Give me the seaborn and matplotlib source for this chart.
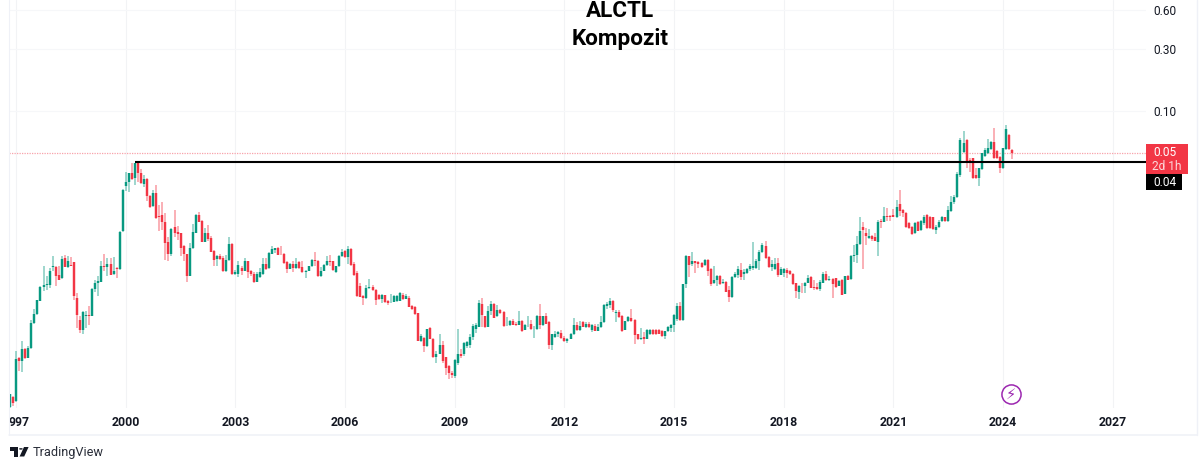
"""
ALCTL monthly candles on a log price axis, TradingView look
"""
import numpy as np
import pandas as pd
import matplotlib.pyplot as plt
from matplotlib.lines import Line2D
from matplotlib.patches import Circle, Polygon, Rectangle
from matplotlib.transforms import ScaledTranslation
import seaborn as sns

# monthly OHLC, Nov 1996 to Apr 2024, in thousandths of a unit
opens = [
    .52, .62, .58, 1.24, 1.17, 1.46, 1.24, 1.48, 2.29, 2.70,
    3.43, 4.39, 4.55, 4.55, 6.23, 6.23, 5.43, 5.12, 7.31, 6.23,
    6.49, 6.76, 3.59, 2.45, 2.05, 2.62, 2.67, 2.60, 4.21, 4.68,
    4.82, 6.33, 6.19, 6.60, 5.53, 6.11, 6.01, 11.9, 26.3, 28.1,
    33.3, 30.2, 39.4, 33.3, 27.1, 29.8, 22.1, 18.3, 23.4, 15.5,
    15.8, 14.0, 9.70, 7.89, 12.6, 11.6, 11.4, 9.09, 7.89, 5.34,
    8.72, 11.5, 15.6, 14.2, 9.8, 11.5, 10.4, 8.32, 7.18, 7.65,
    7.31, 5.76, 7.09, 9.42, 5.5, 5.53, 6.11, 5.83, 6.93, 5.76,
    5.53, 4.82, 5.21, 5.53, 6.57, 6.11, 7.89, 8.47, 8.72, 7.89,
    7.83, 6.8, 6.04, 6.6, 6.11, 6.76, 6.19, 5.66, 5.86, 6.3,
    7.09, 6.88, 5.3, 5.86, 6.49, 7.0, 6.88, 5.7, 6.3, 7.52,
    8.27, 7.4, 8.62, 6.6, 5.6, 4.42, 3.74, 3.59, 4.28, 4.39,
    4.11, 3.81, 3.53, 3.76, 3.38, 3.35, 3.37, 3.38, 3.43, 3.81,
    3.55, 3.57, 3.13, 3.06, 2.75, 1.66, 1.76, 1.53, 2.12, 1.74,
    1.26, 1.34, 1.57, 1.26, 1.08, .94, .90, 1.14, 1.33, 1.32,
    1.54, 1.57, 1.79, 2.09, 2.16, 3.25, 2.6, 2.16, 2.83, 3.23,
    2.6, 2.88, 2.79, 2.21, 2.23, 2.4, 2.27, 2.23, 2.41, 2.05,
    2.23, 2.27, 2.07, 2.07, 2.6, 2.21, 2.6, 2.33, 1.57, 1.79,
    1.88, 1.94, 1.77, 1.66, 1.73, 1.88, 2.21, 2.04, 2.35, 2.16,
    2.26, 2.05, 2.19, 2.01, 2.13, 2.35, 3.13, 3.19, 3.41, 2.76,
    2.79, 2.6, 2.05, 2.37, 2.54, 2.45, 1.89, 1.73, 1.79, 1.73,
    1.88, 2.05, 2.05, 2.05, 2.0, 1.83, 2.0, 2.12, 2.23, 2.47,
    3.13, 2.45, 4.58, 7.52, 6.6, 6.93, 6.76, 6.68, 6.49, 7.09,
    6.01, 4.68, 4.97, 5.34, 4.68, 4.80, 4.11, 3.66, 5.18, 5.43,
    5.94, 5.53, 5.6, 6.07, 6.11, 6.15, 7.0, 8.13, 9.09, 7.44,
    6.19, 6.07, 6.68, 5.43, 5.6, 5.94, 5.86, 5.53, 4.68, 3.97,
    4.47, 4.42, 4.73, 5.21, 4.37, 4.37, 4.21, 4.73, 5.53, 4.97,
    5.03, 5.09, 4.47, 4.97, 3.88, 5.34, 5.03, 7.52, 7.75, 9.42,
    12.7, 11.5, 10.4, 10.9, 10.7, 9.8, 14.2, 14.0, 15.5, 15.5,
    15.6, 15.2, 19.2, 17.2, 16.3, 13.7, 12.7, 11.4, 13.9, 12.1,
    13.7, 15.8, 15.2, 15.2, 12.1, 12.7, 14.2, 15.2, 14.2, 16.9,
    19.9, 21.7, 32.0, 48.2, 59.6, 41.8, 43.3, 32.0, 30.4, 35.6,
    44.9, 47.3, 50.8, 57.5, 49.0, 44.1, 36.3, 50.8, 65.1, 50.3,
]
highs = [
    .65, .63, 1.39, 1.26, 1.67, 1.48, 1.53, 2.45, 2.96, 3.49,
    4.47, 6.37, 5.34, 6.11, 7.52, 6.30, 6.30, 7.52, 7.71, 7.61,
    7.44, 6.84, 3.93, 2.60, 2.87, 2.87, 3.13, 4.28, 4.91, 5.27,
    6.97, 7.89, 7.31, 7.31, 7.44, 6.23, 11.9, 24.8, 33.8, 33.3,
    39.9, 39.9, 40.4, 35.4, 32.0, 30.2, 22.5, 24.5, 26.8, 18.8,
    19.8, 16.4, 10.6, 12.4, 17.2, 13.0, 11.4, 9.25, 7.89, 9.54,
    13.3, 16.0, 16.6, 14.4, 12.4, 13.2, 10.9, 8.47, 7.75, 7.83,
    7.52, 7.75, 10.7, 9.54, 5.94, 6.88, 6.3, 7.26, 7.0, 5.94,
    5.66, 5.66, 6.11, 7.31, 7.31, 8.17, 9.09, 8.8, 8.88, 8.98,
    7.93, 6.88, 6.68, 7.0, 7.31, 6.88, 6.88, 5.94, 6.37, 7.18,
    8.2, 7.09, 6.23, 6.6, 7.52, 7.71, 6.97, 6.37, 7.75, 8.57,
    8.47, 9.09, 8.67, 6.76, 5.76, 4.68, 3.79, 4.5, 5.03, 4.55,
    4.21, 3.88, 3.83, 3.81, 3.49, 3.88, 3.79, 3.79, 4.02, 3.95,
    3.88, 3.74, 3.19, 3.1, 2.76, 1.90, 1.79, 2.08, 2.16, 1.76,
    1.39, 1.90, 1.66, 1.27, 1.10, .98, 1.21, 2.08, 1.46, 1.65,
    1.67, 1.90, 2.26, 2.3, 3.49, 3.59, 2.62, 3.1, 3.38, 3.29,
    3.19, 2.96, 2.83, 2.57, 2.45, 2.47, 2.35, 2.85, 2.45, 2.27,
    2.62, 2.45, 2.19, 2.67, 3.25, 2.62, 2.75, 2.37, 1.90, 2.01,
    2.0, 2.05, 1.83, 1.77, 1.94, 2.52, 2.35, 2.37, 2.37, 2.35,
    2.36, 2.26, 2.27, 2.26, 2.62, 3.25, 3.33, 3.59, 3.45, 2.92,
    2.92, 2.67, 2.41, 2.6, 2.96, 2.47, 1.90, 2.12, 1.98, 2.06,
    2.07, 2.07, 2.07, 2.09, 2.03, 2.01, 2.19, 2.27, 2.70, 3.29,
    3.35, 4.63, 7.75, 7.61, 8.17, 7.0, 6.88, 6.8, 7.18, 7.18,
    6.11, 6.37, 5.43, 5.4, 5.03, 4.85, 4.47, 5.27, 5.66, 6.3,
    6.68, 6.07, 6.11, 6.6, 9.8, 7.18, 8.47, 9.62, 9.98, 7.52,
    7.09, 7.31, 7.31, 6.19, 6.11, 6.11, 5.94, 5.6, 4.73, 4.55,
    4.68, 4.8, 5.4, 5.34, 4.97, 4.68, 4.91, 5.66, 5.86, 5.34,
    5.09, 5.15, 4.97, 5.03, 5.34, 5.43, 7.75, 9.25, 10.9, 15.1,
    13.8, 12.5, 12.3, 11.0, 11.5, 14.4, 14.6, 18.1, 17.7, 15.8,
    17.5, 20.6, 24.5, 17.5, 16.6, 14.0, 13.0, 13.9, 14.2, 14.4,
    15.8, 16.0, 15.5, 15.3, 13.2, 14.4, 15.5, 15.3, 18.5, 22.1,
    22.3, 33.8, 61.7, 69.8, 60.6, 43.3, 43.3, 36.0, 36.3, 47.3,
    51.7, 60.6, 58.5, 74.0, 49.9, 44.9, 51.7, 78.0, 66.2, 50.8,
]
lows = [
    .51, .53, .57, .98, .96, 1.21, 1.23, 1.46, 2.27, 2.65,
    3.38, 4.04, 4.16, 4.28, 5.76, 4.42, 4.91, 5.06, 6.19, 6.11,
    6.30, 3.45, 2.12, 1.94, 1.88, 2.12, 2.24, 2.60, 4.00, 3.70,
    4.77, 5.76, 5.27, 5.37, 5.43, 5.12, 5.94, 11.7, 24.2, 23.8,
    29.3, 26.8, 28.4, 27.3, 26.0, 20.0, 17.7, 18.1, 14.6, 11.9,
    12.1, 7.09, 6.97, 7.52, 10.6, 10.1, 7.61, 6.88, 4.82, 5.27,
    8.57, 11.4, 13.8, 9.7, 9.65, 9.98, 8.13, 6.30, 6.37, 7.09,
    5.70, 5.70, 7.0, 5.43, 5.37, 5.21, 5.43, 5.76, 5.12, 5.34,
    4.68, 4.77, 5.12, 5.43, 5.94, 6.01, 7.79, 7.93, 7.71, 7.71,
    6.60, 5.6, 6.01, 5.66, 6.01, 6.04, 5.6, 5.09, 5.76, 6.23,
    6.3, 5.24, 5.24, 5.8, 6.4, 6.3, 5.86, 5.6, 6.23, 7.44,
    7.31, 6.6, 6.4, 5.34, 3.66, 3.63, 3.15, 3.55, 4.24, 4.07,
    3.19, 3.49, 3.29, 3.29, 3.19, 3.31, 3.33, 3.33, 3.38, 3.49,
    3.51, 3.04, 2.92, 2.67, 1.66, 1.65, 1.37, 1.51, 1.72, 1.24,
    1.14, 1.32, 1.14, .92, .85, .86, .86, 1.10, 1.24, 1.29,
    1.48, 1.49, 1.69, 1.94, 2.14, 2.16, 2.12, 2.14, 2.67, 2.5,
    2.57, 2.72, 2.16, 2.19, 2.19, 2.22, 2.19, 2.21, 1.98, 2.03,
    2.16, 2.05, 1.77, 2.05, 2.09, 2.19, 2.26, 1.46, 1.42, 1.77,
    1.79, 1.75, 1.65, 1.63, 1.72, 1.85, 2.01, 2.01, 2.14, 2.12,
    2.12, 1.97, 2.0, 1.99, 2.12, 2.3, 2.96, 3.0, 2.79, 2.35,
    2.52, 1.97, 2.03, 2.33, 2.33, 1.60, 1.71, 1.71, 1.60, 1.72,
    1.85, 1.85, 1.86, 1.89, 1.79, 1.75, 1.98, 1.97, 1.97, 2.37,
    2.41, 2.41, 4.28, 5.21, 6.4, 5.6, 6.11, 6.11, 6.4, 5.34,
    4.42, 4.58, 4.47, 4.5, 4.58, 3.97, 3.33, 3.61, 5.09, 5.12,
    4.97, 4.97, 5.53, 5.86, 5.94, 6.07, 5.94, 7.99, 7.18, 6.11,
    5.76, 5.94, 5.21, 5.37, 5.21, 5.15, 5.43, 4.55, 3.61, 3.53,
    3.93, 3.93, 4.68, 4.28, 4.11, 4.16, 4.09, 4.68, 4.85, 4.88,
    3.57, 4.31, 4.42, 3.76, 3.83, 4.91, 4.97, 6.8, 6.68, 9.25,
    6.04, 9.25, 10.2, 9.98, 9.87, 7.52, 12.4, 13.8, 14.2, 14.2,
    15.1, 14.9, 15.5, 15.2, 12.5, 12.3, 11.0, 11.2, 11.9, 11.9,
    13.2, 12.3, 12.3, 12.1, 11.2, 12.5, 13.9, 13.9, 13.9, 16.6,
    19.2, 21.3, 30.9, 47.3, 36.3, 33.8, 29.8, 29.8, 26.3, 35.0,
    44.1, 46.5, 49.9, 42.6, 42.6, 33.2, 35.6, 49.9, 49.9, 42.6,
]
closes = [
    .65, .56, 1.22, 1.17, 1.44, 1.24, 1.48, 2.29, 2.70, 3.45,
    4.39, 4.55, 4.60, 5.83, 6.40, 5.34, 4.97, 7.22, 6.23, 6.88,
    6.33, 3.74, 2.65, 2.03, 2.81, 2.65, 2.60, 4.21, 4.73, 4.88,
    6.37, 6.19, 6.60, 5.43, 5.83, 6.01, 11.7, 24.5, 28.1, 33.0,
    29.8, 39.4, 33.3, 27.6, 29.8, 22.1, 18.1, 23.4, 14.8, 15.3,
    14.0, 9.54, 7.89, 12.3, 11.4, 11.2, 8.8, 7.89, 5.27, 8.72,
    11.6, 15.6, 14.0, 9.8, 11.5, 10.2, 8.2, 7.09, 7.65, 7.18,
    5.76, 7.09, 9.42, 5.5, 5.66, 6.49, 5.76, 6.93, 5.66, 5.53,
    4.82, 5.53, 5.66, 6.57, 6.01, 7.99, 8.57, 8.72, 7.75, 7.79,
    6.68, 6.04, 6.6, 6.11, 6.6, 6.11, 5.66, 5.86, 6.3, 7.09,
    6.88, 5.3, 5.86, 6.49, 7.0, 6.84, 5.94, 6.3, 7.56, 8.2,
    7.4, 8.62, 6.49, 5.43, 3.7, 3.68, 3.59, 4.28, 4.39, 4.11,
    3.49, 3.53, 3.76, 3.33, 3.29, 3.37, 3.74, 3.74, 3.93, 3.55,
    3.7, 3.08, 2.97, 2.70, 1.68, 1.83, 1.52, 2.07, 1.74, 1.25,
    1.34, 1.57, 1.17, 1.04, .94, .92, 1.20, 1.33, 1.29, 1.63,
    1.64, 1.79, 2.19, 2.24, 3.29, 2.67, 2.13, 2.85, 3.21, 2.54,
    2.88, 2.75, 2.19, 2.23, 2.37, 2.24, 2.21, 2.41, 2.0, 2.23,
    2.24, 2.07, 2.08, 2.62, 2.21, 2.6, 2.27, 1.57, 1.88, 1.89,
    1.95, 1.77, 1.66, 1.73, 1.90, 2.24, 2.04, 2.19, 2.16, 2.26,
    2.13, 2.21, 2.01, 2.13, 2.35, 3.19, 3.25, 3.38, 2.88, 2.79,
    2.57, 2.01, 2.37, 2.57, 2.38, 1.86, 1.72, 1.77, 1.73, 2.03,
    2.05, 1.88, 1.89, 1.90, 1.83, 2.0, 2.13, 2.23, 2.67, 3.1,
    2.45, 4.58, 7.52, 6.49, 6.88, 6.68, 6.57, 6.19, 7.09, 5.76,
    4.6, 4.97, 5.34, 4.6, 4.82, 4.02, 3.66, 5.21, 5.53, 6.01,
    5.18, 5.66, 6.04, 6.3, 6.37, 7.0, 8.13, 9.25, 7.26, 6.19,
    6.6, 6.6, 5.43, 6.04, 6.04, 5.6, 5.5, 4.6, 4.04, 4.47,
    4.42, 4.73, 5.15, 4.33, 4.26, 4.24, 4.82, 5.53, 4.91, 5.06,
    4.6, 4.37, 4.85, 3.81, 5.27, 4.97, 7.52, 7.71, 9.42, 11.9,
    12.1, 10.9, 10.9, 10.2, 9.98, 14.0, 13.8, 15.5, 15.1, 15.3,
    15.2, 18.2, 16.9, 16.3, 12.7, 12.5, 11.2, 13.7, 11.9, 14.2,
    15.2, 12.5, 12.5, 12.3, 12.7, 13.9, 15.2, 14.2, 17.2, 19.9,
    21.7, 32.6, 59.6, 56.5, 40.4, 39.7, 30.4, 30.4, 36.3, 47.3,
    49.9, 51.7, 57.5, 43.3, 43.3, 36.3, 51.7, 72.3, 50.8, 47.7,
]

year_bars = [2, 38, 74, 110, 146, 182, 218, 254, 290, 326, 362]
year_labels = ["997", "2000", "2003", "2006", "2009", "2012", "2015", "2018", "2021", "2024", "2027"]
price_ticks = [0.60, 0.30, 0.10]
price_labels = ["0.60", "0.30", "0.10"]

level_price = 0.0405
level_start_bar = 41
event_bar = 328.7
event_price = 0.00065

GREEN = "#089981"
RED = "#F23645"
INK = "#131722"
FRAME = "#eff1f7"
W, H = 1200, 469

sns.set_theme(style="white")
plt.rcParams["font.family"] = ["Roboto", "DejaVu Sans"]

candles = pd.DataFrame({"bar": range(len(opens)), "open": opens, "high": highs, "low": lows, "close": closes})
candles[["open", "high", "low", "close"]] /= 1000
candles["direction"] = np.where(candles["close"] >= candles["open"], "up", "down")
palette = {"up": GREEN, "down": RED}

wicks = candles.melt(id_vars=["bar", "direction"], value_vars=["low", "high"], value_name="price")
bodies = candles.melt(id_vars=["bar", "direction"], value_vars=["open", "close"], value_name="price")


def fx(px):
    return px / W


def fy(px):
    return 1 - px / H


fig = plt.figure(figsize=(W / 100, H / 100), dpi=100, facecolor="white")
ax = fig.add_axes([fx(9), fy(408), fx(1146) - fx(9), 408 / H])
ax.set_yscale("log")

sns.lineplot(data=wicks, x="bar", y="price", units="bar", hue="direction", estimator=None, palette=palette,
             linewidth=1.1, alpha=0.5, legend=False, solid_capstyle="butt", ax=ax)
sns.lineplot(data=bodies, x="bar", y="price", units="bar", hue="direction", estimator=None, palette=palette,
             linewidth=1.75, legend=False, solid_capstyle="butt", ax=ax)

last_close = candles["close"].iloc[-1]
right_bar = 372.9
ax.axhline(last_close, color="#f8a3ab", linewidth=0.9, linestyle=(0, (1, 1)), zorder=1)
ax.hlines(level_price, level_start_bar, right_bar, color="black", linewidth=1.5, zorder=4)

ax.set_xlim(-0.33, right_bar)
ax.set_ylim(0.000509, 0.7176)
ax.set_xlabel("")
ax.set_ylabel("")
ax.set_xticks(year_bars)
ax.set_xticklabels(year_labels, fontsize=8.8, fontweight="bold", color=INK)
ax.yaxis.tick_right()
ax.set_yticks(price_ticks)
ax.set_yticklabels(price_labels, fontsize=8.6, color=INK)
ax.tick_params(axis="both", length=0)
ax.tick_params(axis="x", pad=6)
ax.tick_params(axis="y", pad=5)
ax.minorticks_off()
ax.set_axisbelow(True)
ax.grid(True, axis="x", color="#f2f3f5", linewidth=0.8)
ax.grid(True, axis="y", color="#f6f7f9", linewidth=0.8)
for spine in ax.spines.values():
    spine.set_visible(False)

# first year label is cut by the chart edge, so only its last digits sit right of the tick
first = ax.get_xticklabels()[0]
first.set_transform(first.get_transform() + ScaledTranslation(3.4 / 100, 0, fig.dpi_scale_trans))

# lightning marker
sns.scatterplot(x=[event_bar], y=[event_price], s=190, color="white", edgecolor="#9C27B0", linewidth=1.1,
                legend=False, zorder=5, ax=ax)
ax.text(event_bar, event_price, "\u26a1", color="#9C27B0", fontsize=10.5, ha="center", va="center",
        family="DejaVu Sans", zorder=6)

# frame lines around the plot
fig.add_artist(Line2D([fx(9), fx(9)], [fy(0), fy(434.5)], color=FRAME, linewidth=0.8))
fig.add_artist(Line2D([fx(1197), fx(1197)], [fy(0), fy(434.5)], color=FRAME, linewidth=1.0))
fig.add_artist(Line2D([fx(9), fx(1197)], [fy(434.5), fy(434.5)], color=FRAME, linewidth=1.1))

# title
fig.text(fx(620), fy(17.3), "ALCTL", fontsize=16.2, fontweight="bold", color="black", ha="center", va="baseline")
fig.text(fx(620), fy(45.3), "Kompozit", fontsize=16.2, fontweight="bold", color="black", ha="center", va="baseline")

# price tags on the right scale
fig.add_artist(Rectangle((fx(1146), fy(174)), fx(42), 30 / H, facecolor=RED, edgecolor="none",
                         transform=fig.transFigure))
fig.add_artist(Rectangle((fx(1146), fy(190)), fx(36), 16 / H, facecolor="black", edgecolor="none",
                         transform=fig.transFigure))
fig.text(fx(1165), fy(152), "0.05", fontsize=8.6, color="white", ha="center", va="center")
fig.text(fx(1167), fy(166), "2d 1h", fontsize=8.6, color="white", alpha=0.8, ha="center", va="center")
fig.text(fx(1165), fy(182), "0.04", fontsize=8.6, color="white", ha="center", va="center")

# TradingView logo and name
t_shape = [(10, 447), (18.3, 447), (18.3, 456.5), (14, 456.5), (14, 450.5), (10, 450.5)]
slash = [(24, 447), (28.6, 447), (24.2, 456.5), (19.6, 456.5)]
for shape in (t_shape, slash):
    fig.add_artist(Polygon([(fx(x), fy(y)) for x, y in shape], closed=True, facecolor=INK, edgecolor="none",
                           transform=fig.transFigure))
fig.add_artist(Circle((fx(20.9), fy(448.9)), 1.9 / W, facecolor=INK, edgecolor="none", transform=fig.transFigure))
fig.text(fx(32.5), fy(452), "TradingView", fontsize=9.2, color="#2a2e39", ha="left", va="center")

fig.savefig("out.png", dpi=100)
